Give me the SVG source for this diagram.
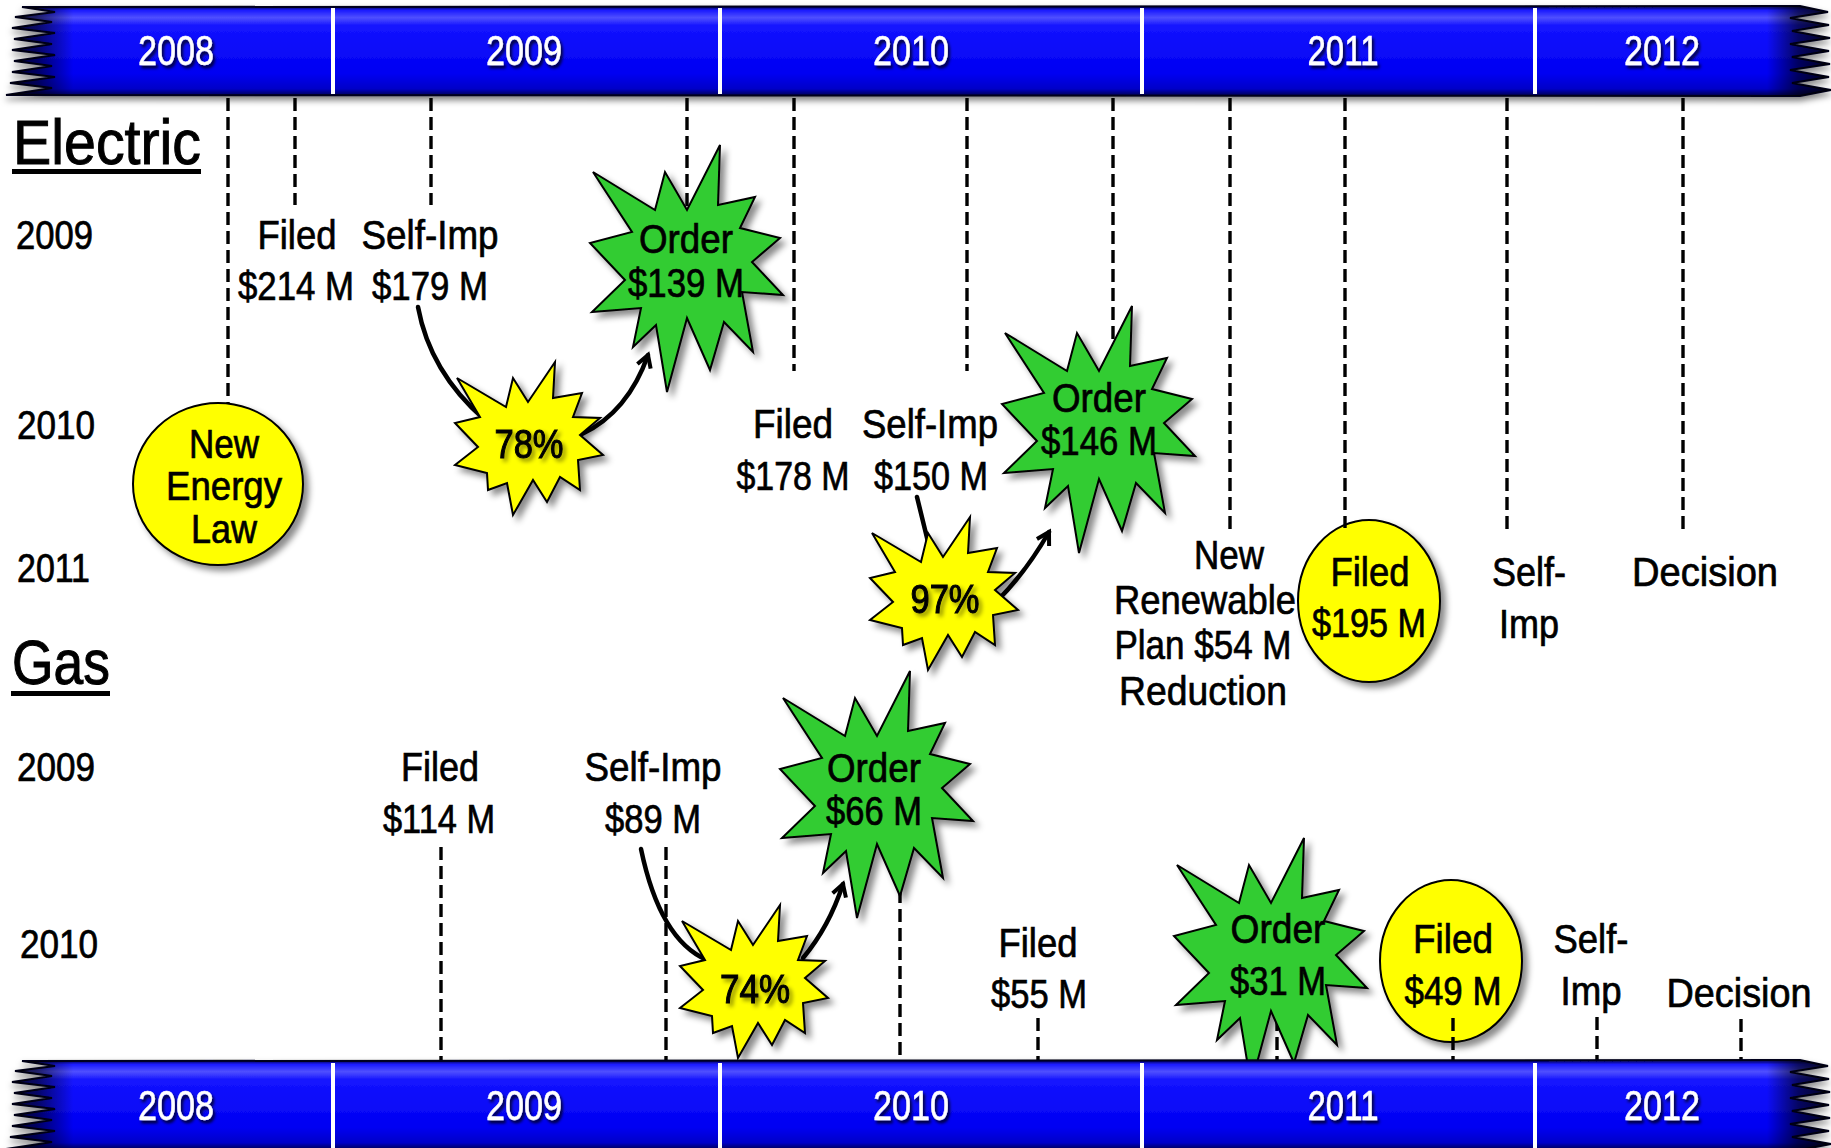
<svg xmlns="http://www.w3.org/2000/svg" xmlns:xlink="http://www.w3.org/1999/xlink" width="1831" height="1148" viewBox="0 0 1831 1148">
<style>
.t{font-family:"Liberation Sans",Arial,sans-serif;font-size:40px;fill:#000;stroke:#000;stroke-width:0.7;text-anchor:middle}
.s{text-anchor:start}
.h{font-size:63px;stroke-width:1}
.yr{font-size:42px;fill:#fff;stroke:#fff;stroke-width:0.5;filter:url(#ysh)}
.pc{filter:url(#tsh);stroke-width:1.1}
.d{stroke:#000;stroke-width:3.4;stroke-dasharray:13 6;fill:none}
.c{stroke:#000;stroke-width:4.5;fill:none;stroke-linecap:round}
.g{fill:#33cc33;stroke:#000;stroke-width:2;stroke-linejoin:miter}
.y{fill:#ffff00;stroke:#000;stroke-width:2;stroke-linejoin:miter}
.dv{stroke:#fff;stroke-width:4}
</style>
<defs>
<linearGradient id="barg" x1="0" y1="0" x2="0" y2="1">
<stop offset="0" stop-color="#000040"/>
<stop offset="0.05" stop-color="#1a1aff"/>
<stop offset="0.13" stop-color="#5050ff"/>
<stop offset="0.22" stop-color="#1414ff"/>
<stop offset="0.75" stop-color="#0000f2"/>
<stop offset="0.92" stop-color="#0000c8"/>
<stop offset="1" stop-color="#00004d"/>
</linearGradient>
<linearGradient id="endg" gradientUnits="userSpaceOnUse" x1="0" y1="0" x2="1831" y2="0">
<stop offset="0" stop-color="#000" stop-opacity="0.9"/>
<stop offset="0.02" stop-color="#000" stop-opacity="0.6"/>
<stop offset="0.04" stop-color="#000" stop-opacity="0"/>
<stop offset="0.965" stop-color="#000" stop-opacity="0"/>
<stop offset="0.982" stop-color="#000" stop-opacity="0.6"/>
<stop offset="1" stop-color="#000" stop-opacity="0.9"/>
</linearGradient>
<filter id="sh" x="-20%" y="-20%" width="150%" height="150%"><feDropShadow dx="5" dy="5" stdDeviation="3" flood-color="#000" flood-opacity="0.45"/></filter>
<filter id="bsh" x="-5%" y="-30%" width="110%" height="170%"><feDropShadow dx="0" dy="4" stdDeviation="3" flood-color="#000" flood-opacity="0.5"/></filter>
<filter id="tsh" x="-20%" y="-20%" width="150%" height="150%"><feDropShadow dx="3" dy="3" stdDeviation="2" flood-color="#000" flood-opacity="0.45"/></filter>
<filter id="ysh" x="-20%" y="-20%" width="150%" height="150%"><feDropShadow dx="2" dy="3" stdDeviation="1.5" flood-color="#000" flood-opacity="0.8"/></filter>
<marker id="arr" viewBox="0 0 20 20" refX="16" refY="10" markerWidth="20" markerHeight="20" markerUnits="userSpaceOnUse" orient="auto"><path d="M4,3 L16,10 L4,17" fill="none" stroke="#000" stroke-width="4"/></marker>
<path id="gstar" class="g" d="M-94,-98 L-32,-60 L-22,-98 L0,-60 L33,-125 L31,-65 L68,-73 L53,-42 L93,-32 L65,-8 L96,25 L55,22 L66,82 L37,52 L23,100 L0,48 L-20,122 L-31,55 L-54,77 L-46,38 L-95,42 L-62,10 L-97,-27 L-55,-38 Z"/>
<path id="ystar" class="y" d="M-72,-62 L-23,-33 L-16,-62 L-1,-38 L26,-78 L24,-42 L53,-47 L44,-23 L71,-22 L51,-5 L74,15 L49,20 L51,50 L31,37 L18,62 L4,40 L-16,75 L-22,43 L-41,50 L-42,33 L-74,25 L-51,7 L-74,-17 L-49,-23 Z"/>
<path id="barshape" d="M22,7 L1800,6 L1828,12 L1790,18 L1829,25 L1792,31 L1830,38 L1790,44 L1829,51 L1792,57 L1830,64 L1790,70 L1829,77 L1792,83 L1831,90 L1800,96 L6,95 L52,88 L10,83 L55,77 L12,72 L52,66 L14,61 L55,55 L12,50 L52,44 L14,39 L55,33 L12,28 L52,22 L15,17 L55,12 Z"/>
<g id="bar">
<use href="#barshape" fill="url(#barg)" stroke="#00001a" stroke-width="2" filter="url(#bsh)"/>
<use href="#barshape" fill="url(#endg)" stroke="none"/>
</g>
</defs>
<rect width="1831" height="1148" fill="#fff"/>

<g id="guides">
<line class="d" x1="228" y1="98" x2="228" y2="403"/>
<line class="d" x1="295" y1="98" x2="295" y2="205"/>
<line class="d" x1="431" y1="98" x2="431" y2="205"/>
<line class="d" x1="687" y1="98" x2="687" y2="215"/>
<line class="d" x1="794" y1="98" x2="794" y2="371"/>
<line class="d" x1="967" y1="98" x2="967" y2="371"/>
<line class="d" x1="1113" y1="98" x2="1113" y2="350"/>
<line class="d" x1="1230" y1="98" x2="1230" y2="532"/>
<line class="d" x1="1507" y1="98" x2="1507" y2="532"/>
<line class="d" x1="1683" y1="98" x2="1683" y2="533"/>
<line class="d" x1="441" y1="847" x2="441" y2="1060"/>
<line class="d" x1="666" y1="847" x2="666" y2="1060"/>
<line class="d" x1="900" y1="890" x2="900" y2="1060"/>
<line class="d" x1="1038" y1="1018" x2="1038" y2="1060"/>
<line class="d" x1="1277" y1="1018" x2="1277" y2="1060"/>
<line class="d" x1="1597" y1="1017" x2="1597" y2="1060"/>
<line class="d" x1="1741" y1="1019" x2="1741" y2="1060"/>
</g>

<g id="connectors">
<path class="c" d="M418,307 Q430,372 484,419"/>
<path class="c" d="M582,434 Q628,412 648,355" marker-end="url(#arr)"/>
<path class="c" d="M917,497 L929,546"/>
<path class="c" d="M998,600 Q1026,572 1049,532" marker-end="url(#arr)"/>
<path class="c" d="M641,849 Q660,940 707,960"/>
<path class="c" d="M803,958 Q829,927 843,884" marker-end="url(#arr)"/>
</g>

<g id="headings">
<text class="t s h" x="13" y="164" textLength="188" lengthAdjust="spacingAndGlyphs">Electric</text>
<rect x="12" y="169" width="189" height="5" fill="#000"/>
<text class="t s h" x="12" y="684" textLength="98" lengthAdjust="spacingAndGlyphs">Gas</text>
<rect x="11" y="691" width="99" height="5" fill="#000"/>
<text class="t s" x="16" y="249" textLength="77" lengthAdjust="spacingAndGlyphs">2009</text>
<text class="t s" x="17" y="439" textLength="78" lengthAdjust="spacingAndGlyphs">2010</text>
<text class="t s" x="17" y="582" textLength="73" lengthAdjust="spacingAndGlyphs">2011</text>
<text class="t s" x="17" y="781" textLength="78" lengthAdjust="spacingAndGlyphs">2009</text>
<text class="t s" x="20" y="958" textLength="78" lengthAdjust="spacingAndGlyphs">2010</text>
</g>

<g id="e-filed-214">
<text class="t" x="297" y="249" textLength="79" lengthAdjust="spacingAndGlyphs">Filed</text>
<text class="t" x="296" y="300" textLength="116" lengthAdjust="spacingAndGlyphs">$214 M</text>
</g>
<g id="e-selfimp-179">
<text class="t" x="430" y="249" textLength="137" lengthAdjust="spacingAndGlyphs">Self-Imp</text>
<text class="t" x="430" y="300" textLength="116" lengthAdjust="spacingAndGlyphs">$179 M</text>
</g>
<g id="new-energy-law">
<ellipse cx="218" cy="484" rx="85" ry="81" fill="#ffff00" stroke="#000" stroke-width="2" filter="url(#sh)"/>
<text class="t" x="224" y="458" textLength="70" lengthAdjust="spacingAndGlyphs">New</text>
<text class="t" x="224" y="500" textLength="116" lengthAdjust="spacingAndGlyphs">Energy</text>
<text class="t" x="224" y="543" textLength="66" lengthAdjust="spacingAndGlyphs">Law</text>
</g>
<g id="e-pct-78">
<use href="#ystar" transform="translate(529,440)" filter="url(#sh)"/>
<text class="t pc" x="529" y="458" textLength="69" lengthAdjust="spacingAndGlyphs">78%</text>
</g>
<g id="e-order-139">
<use href="#gstar" transform="translate(687,270)" filter="url(#sh)"/>
<text class="t" x="686" y="253" textLength="94" lengthAdjust="spacingAndGlyphs">Order</text>
<text class="t" x="686" y="297" textLength="116" lengthAdjust="spacingAndGlyphs">$139 M</text>
</g>
<g id="e-filed-178">
<text class="t" x="793" y="438" textLength="80" lengthAdjust="spacingAndGlyphs">Filed</text>
<text class="t" x="793" y="490" textLength="113" lengthAdjust="spacingAndGlyphs">$178 M</text>
</g>
<g id="e-selfimp-150">
<text class="t" x="930" y="438" textLength="136" lengthAdjust="spacingAndGlyphs">Self-Imp</text>
<text class="t" x="931" y="490" textLength="114" lengthAdjust="spacingAndGlyphs">$150 M</text>
</g>
<g id="e-pct-97">
<use href="#ystar" transform="translate(944,595)" filter="url(#sh)"/>
<text class="t pc" x="945" y="613" textLength="69" lengthAdjust="spacingAndGlyphs">97%</text>
</g>
<g id="e-order-146">
<use href="#gstar" transform="translate(1099,431)" filter="url(#sh)"/>
<text class="t" x="1099" y="412" textLength="94" lengthAdjust="spacingAndGlyphs">Order</text>
<text class="t" x="1099" y="455" textLength="116" lengthAdjust="spacingAndGlyphs">$146 M</text>
</g>
<g id="e-renewable">
<text class="t" x="1229" y="569" textLength="70" lengthAdjust="spacingAndGlyphs">New</text>
<text class="t" x="1205" y="614" textLength="182" lengthAdjust="spacingAndGlyphs">Renewable</text>
<text class="t" x="1203" y="659" textLength="177" lengthAdjust="spacingAndGlyphs">Plan $54 M</text>
<text class="t" x="1203" y="705" textLength="168" lengthAdjust="spacingAndGlyphs">Reduction</text>
</g>
<g id="e-filed-195">
<ellipse cx="1369" cy="601" rx="71" ry="81" fill="#ffff00" stroke="#000" stroke-width="2" filter="url(#sh)"/>
<text class="t" x="1370" y="586" textLength="79" lengthAdjust="spacingAndGlyphs">Filed</text>
<text class="t" x="1369" y="637" textLength="114" lengthAdjust="spacingAndGlyphs">$195 M</text>
</g>
<g id="e-selfimp-2011">
<text class="t" x="1529" y="586" textLength="74" lengthAdjust="spacingAndGlyphs">Self-</text>
<text class="t" x="1529" y="638" textLength="60" lengthAdjust="spacingAndGlyphs">Imp</text>
</g>
<g id="e-decision">
<text class="t" x="1705" y="586" textLength="146" lengthAdjust="spacingAndGlyphs">Decision</text>
</g>

<g id="g-filed-114">
<text class="t" x="440" y="781" textLength="78" lengthAdjust="spacingAndGlyphs">Filed</text>
<text class="t" x="439" y="833" textLength="112" lengthAdjust="spacingAndGlyphs">$114 M</text>
</g>
<g id="g-selfimp-89">
<text class="t" x="653" y="781" textLength="137" lengthAdjust="spacingAndGlyphs">Self-Imp</text>
<text class="t" x="653" y="833" textLength="96" lengthAdjust="spacingAndGlyphs">$89 M</text>
</g>
<g id="g-pct-74">
<use href="#ystar" transform="translate(754,983)" filter="url(#sh)"/>
<text class="t pc" x="755" y="1003" textLength="70" lengthAdjust="spacingAndGlyphs">74%</text>
</g>
<g id="g-order-66">
<use href="#gstar" transform="translate(877,796)" filter="url(#sh)"/>
<text class="t" x="874" y="782" textLength="94" lengthAdjust="spacingAndGlyphs">Order</text>
<text class="t" x="874" y="825" textLength="96" lengthAdjust="spacingAndGlyphs">$66 M</text>
</g>
<g id="g-filed-55">
<text class="t" x="1038" y="957" textLength="79" lengthAdjust="spacingAndGlyphs">Filed</text>
<text class="t" x="1039" y="1008" textLength="96" lengthAdjust="spacingAndGlyphs">$55 M</text>
</g>
<g id="g-order-31">
<use href="#gstar" transform="translate(1271,963)" filter="url(#sh)"/>
<text class="t" x="1278" y="943" textLength="95" lengthAdjust="spacingAndGlyphs">Order</text>
<text class="t" x="1278" y="995" textLength="96" lengthAdjust="spacingAndGlyphs">$31 M</text>
</g>
<g id="g-filed-49">
<ellipse cx="1451" cy="961" rx="71" ry="81" fill="#ffff00" stroke="#000" stroke-width="2" filter="url(#sh)"/>
<text class="t" x="1453" y="953" textLength="80" lengthAdjust="spacingAndGlyphs">Filed</text>
<text class="t" x="1453" y="1005" textLength="97" lengthAdjust="spacingAndGlyphs">$49 M</text>
</g>
<g id="g-selfimp-2011">
<text class="t" x="1591" y="953" textLength="75" lengthAdjust="spacingAndGlyphs">Self-</text>
<text class="t" x="1591" y="1005" textLength="61" lengthAdjust="spacingAndGlyphs">Imp</text>
</g>
<g id="g-decision">
<text class="t" x="1739" y="1007" textLength="145" lengthAdjust="spacingAndGlyphs">Decision</text>
</g>

<g id="guides-top">
<line class="d" x1="1345" y1="98" x2="1345" y2="528"/>
<line class="d" x1="1453" y1="1018" x2="1453" y2="1060"/>
</g>

<g id="top-bar">
<use href="#bar"/>
<line class="dv" x1="333" y1="8" x2="333" y2="94"/>
<line class="dv" x1="720" y1="8" x2="720" y2="94"/>
<line class="dv" x1="1142" y1="8" x2="1142" y2="94"/>
<line class="dv" x1="1535" y1="8" x2="1535" y2="94"/>
<text class="t yr" x="176" y="65" textLength="76" lengthAdjust="spacingAndGlyphs">2008</text>
<text class="t yr" x="524" y="65" textLength="76" lengthAdjust="spacingAndGlyphs">2009</text>
<text class="t yr" x="911" y="65" textLength="76" lengthAdjust="spacingAndGlyphs">2010</text>
<text class="t yr" x="1343" y="65" textLength="71" lengthAdjust="spacingAndGlyphs">2011</text>
<text class="t yr" x="1662" y="65" textLength="76" lengthAdjust="spacingAndGlyphs">2012</text>
</g>
<g id="bottom-bar">
<use href="#bar" transform="translate(0,1054)"/>
<line class="dv" x1="333" y1="1063" x2="333" y2="1148"/>
<line class="dv" x1="720" y1="1063" x2="720" y2="1148"/>
<line class="dv" x1="1142" y1="1063" x2="1142" y2="1148"/>
<line class="dv" x1="1535" y1="1063" x2="1535" y2="1148"/>
<text class="t yr" x="176" y="1120" textLength="76" lengthAdjust="spacingAndGlyphs">2008</text>
<text class="t yr" x="524" y="1120" textLength="76" lengthAdjust="spacingAndGlyphs">2009</text>
<text class="t yr" x="911" y="1120" textLength="76" lengthAdjust="spacingAndGlyphs">2010</text>
<text class="t yr" x="1343" y="1120" textLength="71" lengthAdjust="spacingAndGlyphs">2011</text>
<text class="t yr" x="1662" y="1120" textLength="76" lengthAdjust="spacingAndGlyphs">2012</text>
</g>
</svg>
